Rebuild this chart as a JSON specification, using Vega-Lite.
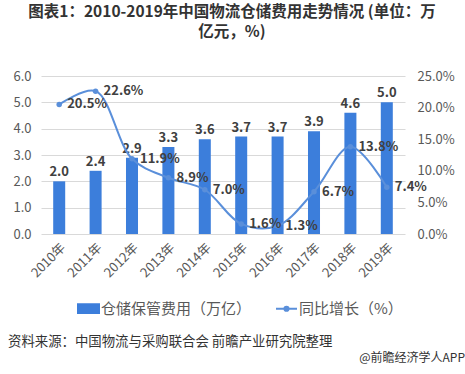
{
  "$schema": "https://vega.github.io/schema/vega-lite/v6.json",
  "width": 364,
  "height": 158,
  "autosize": "none",
  "padding": {"left": 41, "top": 76, "right": 60, "bottom": 140},
  "background": "white",
  "config": {
    "font": "Noto Sans CJK SC",
    "view": {"stroke": null}
  },
  "title": {
    "text": ["图表1：2010-2019年中国物流仓储费用走势情况 (单位：万", "亿元，%)"],
    "fontSize": 15.5,
    "fontWeight": "bold",
    "color": "#333333",
    "anchor": "middle",
    "dx": 9,
    "lineHeight": 20,
    "offset": 30
  },
  "data": {
    "values": [
      {"year": "2010年", "cost": 2.0, "growth": 20.5},
      {"year": "2011年", "cost": 2.4, "growth": 22.6},
      {"year": "2012年", "cost": 2.9, "growth": 11.9},
      {"year": "2013年", "cost": 3.3, "growth": 8.9},
      {"year": "2014年", "cost": 3.6, "growth": 7.0},
      {"year": "2015年", "cost": 3.7, "growth": 1.6},
      {"year": "2016年", "cost": 3.7, "growth": 1.3},
      {"year": "2017年", "cost": 3.9, "growth": 6.7},
      {"year": "2018年", "cost": 4.6, "growth": 13.8},
      {"year": "2019年", "cost": 5.0, "growth": 7.4}
    ]
  },
  "layer": [
    {
      "encoding": {
        "x": {
          "field": "year",
          "type": "ordinal",
          "sort": null,
          "scale": {"paddingInner": 0.67, "paddingOuter": 0.335},
          "axis": {
            "title": null,
            "labelAngle": -45,
            "labelAlign": "right",
            "labelBaseline": "top",
            "labelFontSize": 13,
            "labelColor": "#595959",
            "labelPadding": 7,
            "ticks": false,
            "domain": false
          }
        }
      },
      "layer": [
        {
          "encoding": {
            "y": {
              "field": "cost",
              "type": "quantitative",
              "scale": {"domain": [0, 6]},
              "axis": {
                "title": null,
                "values": [0, 1, 2, 3, 4, 5, 6],
                "format": ".1f",
                "labelFontSize": 13,
                "labelColor": "#595959",
                "labelPadding": 10,
                "ticks": false,
                "domain": false,
                "gridColor": "#D9D9D9"
              }
            }
          },
          "layer": [
            {
              "mark": {"type": "bar", "color": "#3C7EDB"},
              "encoding": {
                "color": {
                  "datum": "仓储保管费用（万亿）",
                  "type": "nominal",
                  "scale": {
                    "domain": ["仓储保管费用（万亿）", "同比增长（%）"],
                    "range": ["#3C7EDB", "#5A8FDA"]
                  },
                  "legend": {
                    "title": null,
                    "orient": "none",
                    "direction": "horizontal",
                    "legendX": 36,
                    "legendY": 221,
                    "labelFontSize": 15,
                    "labelColor": "#595959",
                    "symbolSize": 441,
                    "columnPadding": 20,
                    "labelOffset": 1,
                    "encode": {
                      "symbols": {
                        "update": {
                          "shape": {"signal": "datum.value === '仓储保管费用（万亿）' ? 'M-1,-0.42L1,-0.42L1,0.42L-1,0.42Z' : 'M-1,0L1,0M-0.2,0a0.2,0.2 0 1,0 0.4,0a0.2,0.2 0 1,0 -0.4,0'"},
                          "strokeWidth": {"value": 2}
                        }
                      }
                    }
                  }
                }
              }
            },
            {
              "mark": {"type": "text", "dy": -9, "fontSize": 13, "fontWeight": "bold", "color": "#404040"},
              "encoding": {
                "text": {"field": "cost", "type": "quantitative", "format": ".1f"}
              }
            }
          ]
        },
        {
          "encoding": {
            "y": {
              "field": "growth",
              "type": "quantitative",
              "scale": {"domain": [0, 25]},
              "axis": {
                "title": null,
                "orient": "right",
                "values": [0, 5, 10, 15, 20, 25],
                "labelExpr": "format(datum.value, '.1f') + '%'",
                "labelFontSize": 13,
                "labelColor": "#595959",
                "labelPadding": 12,
                "ticks": false,
                "domain": false,
                "grid": false
              }
            }
          },
          "layer": [
            {
              "mark": {"type": "line", "interpolate": "catmull-rom", "strokeWidth": 2, "point": {"size": 30, "filled": true}},
              "encoding": {
                "color": {"datum": "同比增长（%）", "type": "nominal"}
              }
            },
            {
              "mark": {"type": "text", "align": "left", "dx": 8, "baseline": "middle", "fontSize": 13, "fontWeight": "bold", "color": "#404040", "text": {"expr": "format(datum.growth, '.1f') + '%'"}}
            }
          ]
        }
      ],
      "resolve": {"scale": {"y": "independent"}}
    },
    {
      "data": {"values": [{"t": "资料来源：中国物流与采购联合会 前瞻产业研究院整理"}]},
      "mark": {"type": "text", "align": "left", "baseline": "middle", "fontSize": 13.4, "color": "#333333"},
      "encoding": {"text": {"field": "t"}, "x": {"value": -33}, "y": {"value": 266}}
    },
    {
      "data": {"values": [{"t": "@前瞻经济学人APP"}]},
      "mark": {"type": "text", "align": "right", "baseline": "middle", "fontSize": 12, "color": "#333333"},
      "encoding": {"text": {"field": "t"}, "x": {"value": 424}, "y": {"value": 282}}
    }
  ]
}
